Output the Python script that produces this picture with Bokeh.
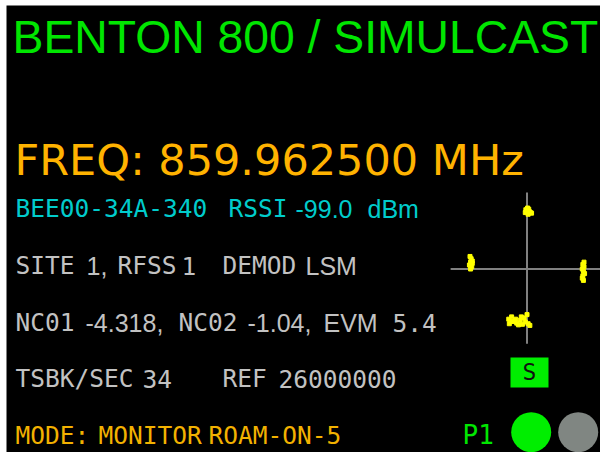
from bokeh.plotting import figure
from bokeh.models import Range1d
from bokeh.embed import file_html
from bokeh.resources import INLINE

# ---------------- data ----------------
title_text = ["BENTON 800 / SIMULCAST"]
freq_text = ["FREQ: 859.962500 MHz"]
line_words = [
    ["BEE00-34A-340", "RSSI", "-99.0", "dBm"],
    ["SITE", "1,", "RFSS", "1", "DEMOD", "LSM"],
    ["NC01", "-4.318,", "NC02", "-1.04,", "EVM", "5.4"],
    ["TSBK/SEC", "34", "REF", "26000000"],
    ["MODE:", "MONITOR", "ROAM-ON-5"],
]
status_label = ["P1"]
sync_label = ["S"]

# constellation symbols (I, Q)
sym_i = [0.00, 0.03, 0.06, -0.03, 0.02, 0.08, -0.02, 0.04, 0.01,
         -1.00, -0.98, -0.99, -0.96, -1.01, -0.97, -0.99, -0.96,
         0.98, 1.00, 0.97, 0.99, 1.01, 0.98, 0.97, 0.99, 1.00,
         -0.32, -0.28, -0.31, -0.22, -0.18, -0.12, -0.08, -0.03, 0.02, 0.05, -0.05, -0.15, -0.10, 0.00, -0.27, -0.20]
sym_q = [1.02, 1.05, 0.99, 0.99, 0.96, 0.98, 1.04, 1.01, 1.07,
         0.22, 0.18, 0.12, 0.14, 0.07, 0.04, 0.00, 0.10,
         0.08, 0.04, 0.00, -0.04, -0.08, -0.12, -0.16, -0.20, 0.12,
         -0.88, -0.92, -0.96, -0.92, -0.95, -0.90, -0.97, -0.93, -0.96, -0.99, -0.86, -0.98, -0.84, -0.80, -0.84, -0.88]

# ---------------- layout ----------------
BASE_SHIFT = 0.39        # baseline correction (em)

line_x = [
    [15, 228, 295, 367],
    [15, 86, 117, 181, 222, 305],
    [15, 85, 178, 247, 323, 392],
    [15, 142, 222, 278],
    [15, 98, 208],
]
line_base = [218, 275, 332, 388, 445]
line_color = ["#00CCCC", "#C2C2C2", "#C2C2C2", "#C2C2C2", "#F2B100"]
MONO, SANS = "DejaVu Sans Mono", "Liberation Sans"
line_font = [
    [MONO, MONO, SANS, SANS],
    [MONO, SANS, MONO, MONO, MONO, SANS],
    [MONO, SANS, MONO, SANS, SANS, MONO],
    [MONO, MONO, MONO, MONO],
    [MONO, MONO, MONO],
]
SMALL = {MONO: 24.5, SANS: 25.0}

p = figure(width=600, height=452, x_range=Range1d(6, 600), y_range=Range1d(452, 5),
           output_backend="svg", toolbar_location=None,
           min_border_left=6, min_border_top=5, min_border_right=0, min_border_bottom=0)
p.axis.visible = False
p.grid.visible = False
p.background_fill_color = "black"
p.border_fill_color = "white"
p.outline_line_color = None

cx, cy, r = 526.5, 268.5, 57.0
p.extra_x_ranges = {"iq_x": Range1d((6 - cx) / r, (600 - cx) / r)}
p.extra_y_ranges = {"iq_y": Range1d((cy - 452) / r, (cy - 5) / r)}


def put(xs, bases, texts, fonts, size, color, align="left"):
    ys = [b - BASE_SHIFT * size for b in bases]
    p.text(x=xs, y=ys, text=texts, text_font=fonts, text_font_size=f"{size:.1f}px",
           text_color=color, text_align=align, text_baseline="alphabetic")


put([12], [55], title_text, [SANS], 46.3, "#00E600")
put([14], [176], freq_text, ["DejaVu Sans"], 43, "#FFB300")

for words, xs, b, col, fonts in zip(line_words, line_x, line_base, line_color, line_font):
    for font in (MONO, SANS):
        sel = [i for i, f in enumerate(fonts) if f == font]
        if sel:
            put([xs[i] for i in sel], [b] * len(sel), [words[i] for i in sel],
                [font] * len(sel), SMALL[font], col)

# crosshair
p.segment(x0=[-1.34, 0], y0=[0, -1.31], x1=[1.32, 0], y1=[0, 1.34],
          x_range_name="iq_x", y_range_name="iq_y", line_color="#808080", line_width=2)
p.scatter(x=sym_i, y=sym_q, x_range_name="iq_x", y_range_name="iq_y",
          marker="square", size=4, fill_color="#FFFF00", line_color="#FFFF00")

# sync box
p.quad(left=[510], right=[548], top=[357], bottom=[387], fill_color="#00EE00", line_color=None)
put([529], [380.5], sync_label, [MONO], 23, "#101010", align="center")

# status
put([462], [445], status_label, [MONO], 26, "#00E600")
p.scatter(x=[530.7, 577.7], y=[431.7, 431.7], marker="circle", size=40,
          fill_color=["#00EE00", "#808682"], line_color=None)

open("out.html", "w").write(file_html(p, INLINE))
